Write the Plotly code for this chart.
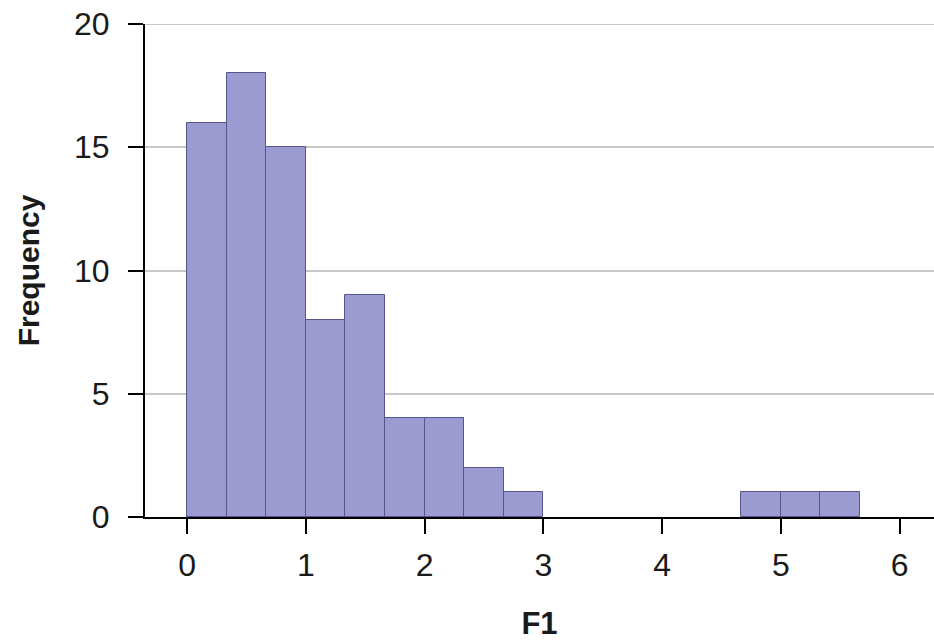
import plotly.graph_objects as go

# Histogram of F1 (bin width 1/3)
bin_width = 1 / 3
bin_index = [0, 1, 2, 3, 4, 5, 6, 7, 8, 14, 15, 16]
frequency = [16, 18, 15, 8, 9, 4, 4, 2, 1, 1, 1, 1]
x_ticks = [0, 1, 2, 3, 4, 5, 6]
y_ticks = [0, 5, 10, 15, 20]

centers = [(i + 0.5) * bin_width for i in bin_index]

fig = go.Figure()
fig.add_trace(go.Bar(
    x=centers,
    y=frequency,
    width=[bin_width] * len(centers),
    marker=dict(color="rgb(155,155,210)", line=dict(color="rgb(85,85,140)", width=1)),
    showlegend=False,
))

# top gridline (at the maximum y tick) that plotly omits at the range edge
fig.add_shape(type="line", xref="paper", yref="y", x0=0, x1=1,
              y0=y_ticks[-1], y1=y_ticks[-1],
              line=dict(color="#c8c8c8", width=2), layer="below")

font_family = "Liberation Sans, Arial, sans-serif"
fig.update_layout(
    width=934, height=641,
    margin=dict(l=145, r=0, t=24, b=124),
    plot_bgcolor="white", paper_bgcolor="white",
    bargap=0,
    font=dict(family=font_family, color="#1a1a1a", size=32),
)
fig.update_xaxes(
    range=[-0.354, 6.29],
    tickvals=x_ticks,
    ticks="outside", ticklen=15, tickwidth=2, tickcolor="black",
    ticklabelstandoff=4,
    showline=True, linecolor="black", linewidth=2,
    showgrid=False, zeroline=False, automargin=False,
    ticklabeloverflow="allow",
    tickfont=dict(size=32),
    title=dict(text="<b>F1</b>", font=dict(size=31), standoff=31),
)
fig.update_yaxes(
    range=[0, 20],
    tickvals=y_ticks,
    ticks="outside", ticklen=15, tickwidth=2, tickcolor="black",
    ticklabelstandoff=12,
    showline=True, linecolor="black", linewidth=2,
    showgrid=True, gridcolor="#c8c8c8", gridwidth=2,
    zeroline=False, automargin=False,
    ticklabeloverflow="allow",
    tickfont=dict(size=32),
    title=dict(text="<b>Frequency</b>", font=dict(size=30), standoff=26),
)

fig.write_html("out.html", config={"displayModeBar": False},
               post_script="document.body.style.margin='0';")
